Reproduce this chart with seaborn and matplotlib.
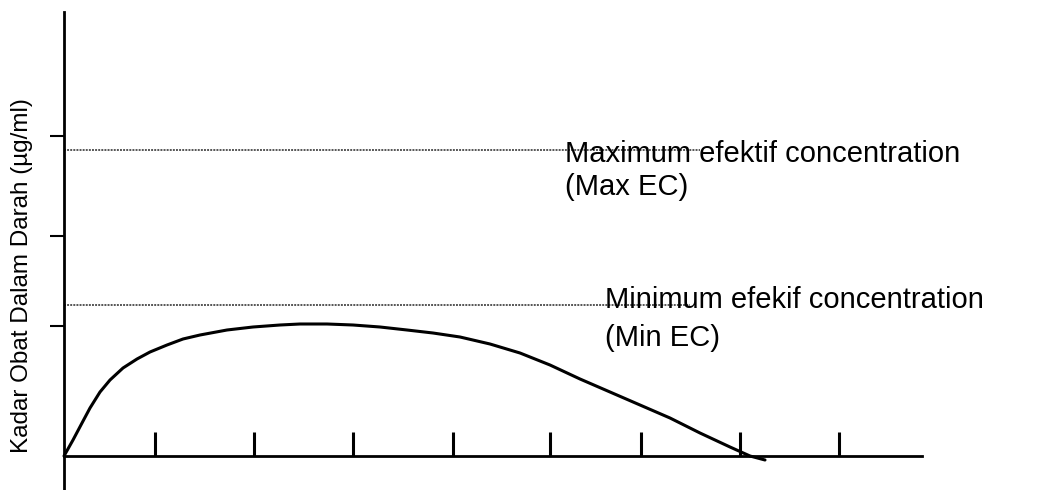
import matplotlib
matplotlib.use("Agg")
import matplotlib.pyplot as plt
import seaborn as sns
import pandas as pd

# Curve (time units, concentration units)
curve_time = [0.0, 0.09, 0.18, 0.26, 0.36, 0.46, 0.59, 0.73, 0.86, 1.03, 1.19,
              1.36, 1.63, 1.89, 2.16, 2.36, 2.63, 2.89, 3.16, 3.43, 3.69, 3.96,
              4.26, 4.56, 4.86, 5.16, 5.46, 5.76, 6.06, 6.36, 6.66, 6.86, 7.01]
curve_conc = [0.0, 0.16, 0.33, 0.48, 0.64, 0.76, 0.88, 0.97, 1.04, 1.11, 1.17,
              1.21, 1.26, 1.29, 1.31, 1.32, 1.32, 1.31, 1.29, 1.26, 1.23, 1.19,
              1.12, 1.03, 0.91, 0.77, 0.64, 0.51, 0.38, 0.23, 0.09, 0.0, -0.04]

x_ticks = [0.91, 1.90, 2.89, 3.89, 4.86, 5.77, 6.76, 7.75]
y_ticks = [1.30, 2.20, 3.20]

max_ec = 3.06
min_ec = 1.51
max_label = ["Maximum efektif concentration", "(Max EC)"]
min_label = ["Minimum efekif concentration", "(Min EC)"]
y_label = "Kadar Obat Dalam Darah (µg/ml)"

sns.set_style("white")
plt.rcParams["font.family"] = ["Liberation Sans", "DejaVu Sans"]

fig = plt.figure(figsize=(10.37, 4.90), dpi=100)
ax = fig.add_axes([0, 0, 1, 1])
ax.set_xlim(-0.64, 9.73)
ax.set_ylim(-0.34, 4.56)

df = pd.DataFrame({"t": curve_time, "c": curve_conc})
sns.lineplot(data=df, x="t", y="c", sort=False, estimator=None, color="black",
             linewidth=2.2, ax=ax, solid_joinstyle="round", solid_capstyle="round")

# effective concentration limits
dots = (0, (1, 0.6))
ax.plot([0, 6.36], [max_ec, max_ec], color="#555555", linestyle=dots, linewidth=1.4)
ax.plot([0, 6.26], [min_ec, min_ec], color="#555555", linestyle=dots, linewidth=1.4)

ax.text(5.01, 2.94, max_label[0], fontsize=21, va="baseline", ha="left", color="black")
ax.text(5.01, 2.61, max_label[1], fontsize=21, va="baseline", ha="left", color="black")
ax.text(5.41, 1.48, min_label[0], fontsize=21, va="baseline", ha="left", color="black")
ax.text(5.41, 1.10, min_label[1], fontsize=21, va="baseline", ha="left", color="black")

# axes drawn as crossing spines
for s in ["top", "right"]:
    ax.spines[s].set_visible(False)
ax.spines["left"].set_position(("data", 0))
ax.spines["bottom"].set_position(("data", 0))
ax.spines["left"].set_bounds(-0.34, 4.44)
ax.spines["bottom"].set_bounds(0, 8.58)
for s in ["left", "bottom"]:
    ax.spines[s].set_linewidth(2.0)
    ax.spines[s].set_color("black")

ax.set_xticks(x_ticks)
ax.set_yticks(y_ticks)
ax.set_xticklabels([])
ax.set_yticklabels([])
ax.tick_params(axis="x", direction="in", length=17, width=2.2, color="black", bottom=True)
ax.tick_params(axis="y", direction="out", length=10, width=1.5, color="black", left=True)
ax.set_xlabel("")
ax.set_ylabel("")

ax.text(-0.42, 1.80, y_label, fontsize=17.5, rotation=90, va="center", ha="center",
        color="black")

fig.savefig("out.png", dpi=100)
